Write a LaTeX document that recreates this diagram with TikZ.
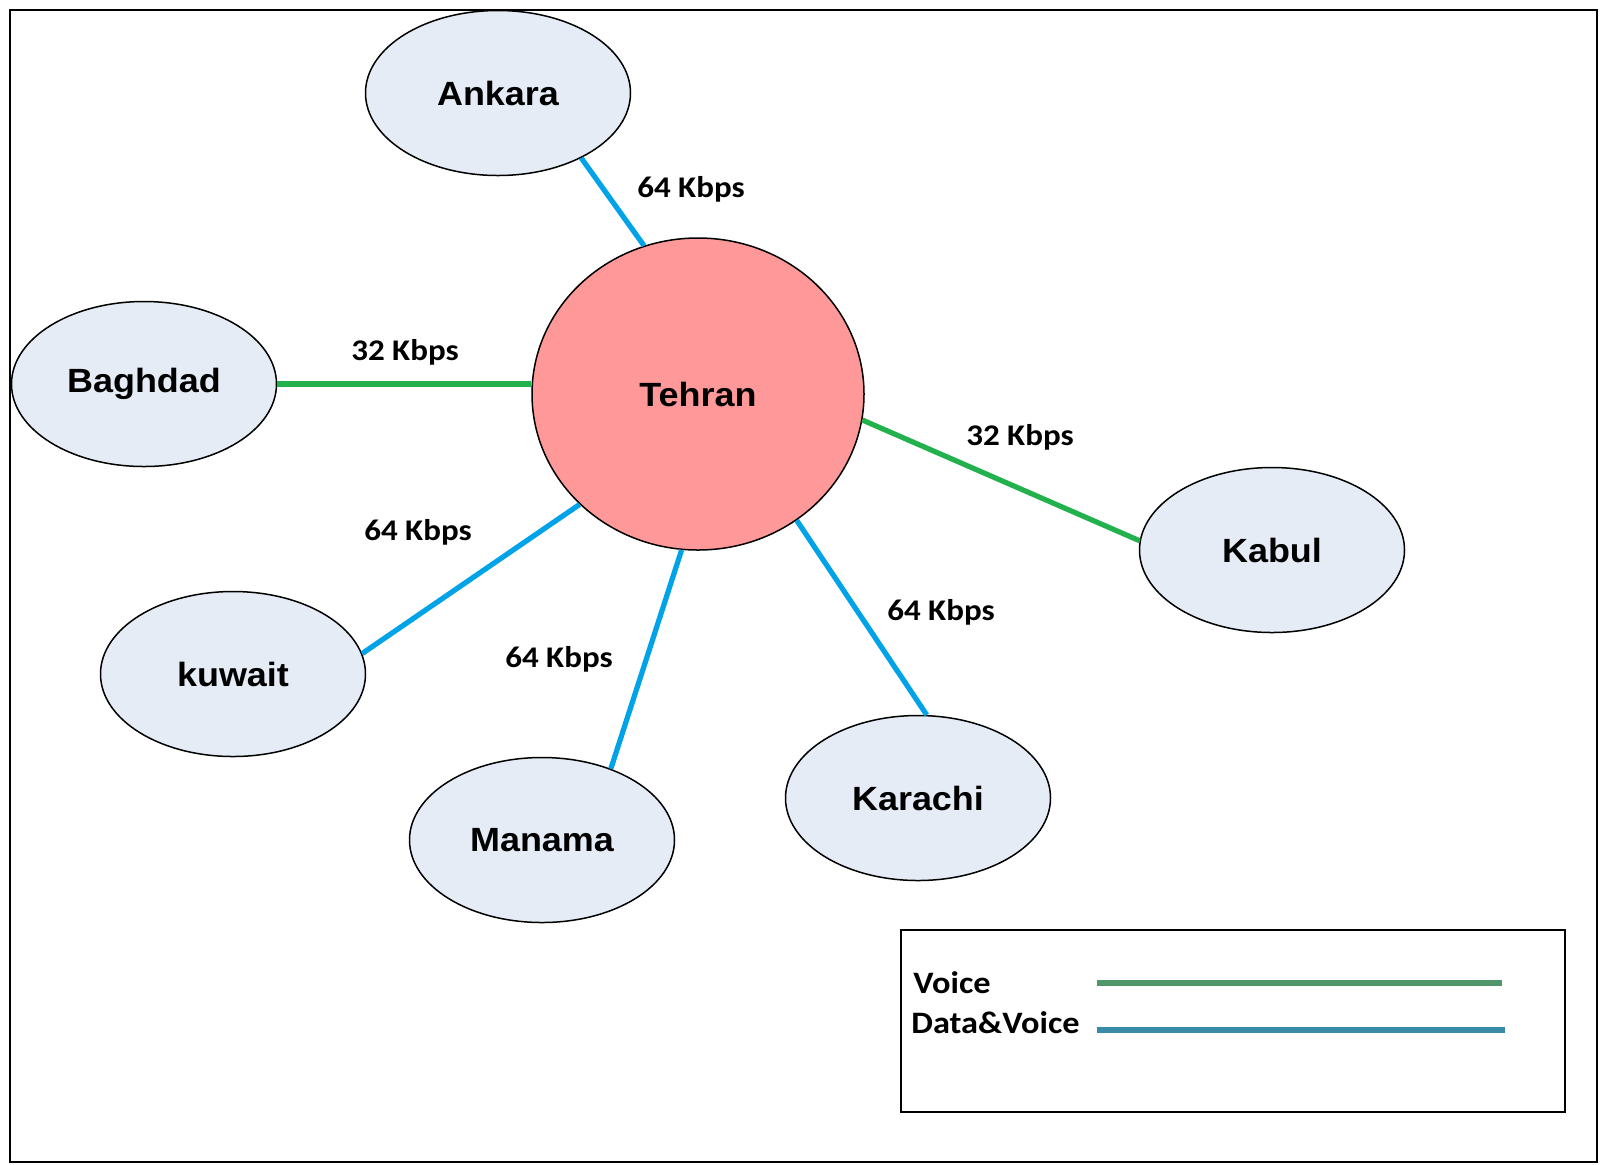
\documentclass[tikz,border=0pt]{standalone}
\usepackage{fontspec}
\setmainfont{Liberation Sans}
\newfontfamily\cityfont[FakeStretch=1.07]{Liberation Sans}
\newfontfamily\ratefont[FakeStretch=1.1]{Carlito}
\usetikzlibrary{shapes.geometric}
\definecolor{sitefill}{RGB}{230,236,246}
\definecolor{hubfill}{RGB}{255,153,153}
\definecolor{voicegreen}{RGB}{34,177,76}
\definecolor{datablue}{RGB}{0,162,232}
\definecolor{voicekey}{RGB}{80,150,106}
\definecolor{datakey}{RGB}{56,138,166}
\begin{document}
\begin{tikzpicture}[x=0.5pt,y=-0.5pt,
  site/.style={ellipse, draw=black, line width=0.75pt, fill=sitefill,
    minimum width=132.5pt, minimum height=82.5pt, inner sep=0pt,
    font=\cityfont\bfseries\fontsize{16.8}{20}\selectfont},
  hub/.style={site, fill=hubfill, minimum width=166pt, minimum height=156pt},
  voice/.style={voicegreen, line width=2.6pt},
  data/.style={datablue, line width=2.6pt},
  rate/.style={inner sep=0pt, font=\ratefont\bfseries\fontsize{15}{18}\selectfont},
  keytext/.style={inner sep=0pt, anchor=west, font=\ratefont\bfseries\fontsize{15.6}{18}\selectfont},
]
\useasboundingbox (0,0) rectangle (1600,1164);
% outer frame
\draw[line width=1pt] (10,10) rectangle (1597,1162);

% hub and branch offices
\node[hub]  (tehran)  at (698,394)  {Tehran};
\node[site] (ankara)  at (498,93)   {Ankara};
\node[site] (baghdad) at (144,384)  {Baghdad};
\node[site] (kabul)   at (1272,550) {Kabul};
\node[site] (kuwait)  at (233,674)  {kuwait};
\node[site] (manama)  at (542,840)  {Manama};
\node[site] (karachi) at (918,798)  {Karachi};

% links
\draw[data]  (ankara.-38)   -- (tehran.110);
\draw[voice] (baghdad.east) -- (baghdad.east -| tehran.west);
\draw[voice] (tehran.-9.3)  -- (kabul.176.5);
\draw[data]  (kuwait.9)     -- (tehran.-137);
\draw[data]  (manama.46.6)  -- (tehran.-96.6);
\draw[data]  (karachi.84.8) -- (tehran.-52.1);

% link rates
\node[rate] (r1) at (691,189) {64 Kbps};
\node[rate] (r2) at (405,352) {32 Kbps};
\node[rate] (r3) at (1020,437) {32 Kbps};
\node[rate] (r4) at (418,532) {64 Kbps};
\node[rate] (r5) at (559,659) {64 Kbps};
\node[rate] (r6) at (941,612) {64 Kbps};

% legend
\node[draw, line width=0.9pt, anchor=north west, minimum width=332pt,
      minimum height=91pt, inner sep=0pt] (legend) at (900,929) {};
\node[keytext] (voicetxt) at (913,983) {Voice};
\node[keytext] (datatxt) at (911,1023) {Data\&Voice};
\coordinate (v1) at (1097,983);
\coordinate (v2) at (1502,983);
\coordinate (d1) at (1097,1030);
\coordinate (d2) at (1505,1030);
\draw[voicekey, line width=2.6pt] (v1) -- (v2);
\draw[datakey, line width=2.6pt] (d1) -- (d2);
\end{tikzpicture}
\end{document}
